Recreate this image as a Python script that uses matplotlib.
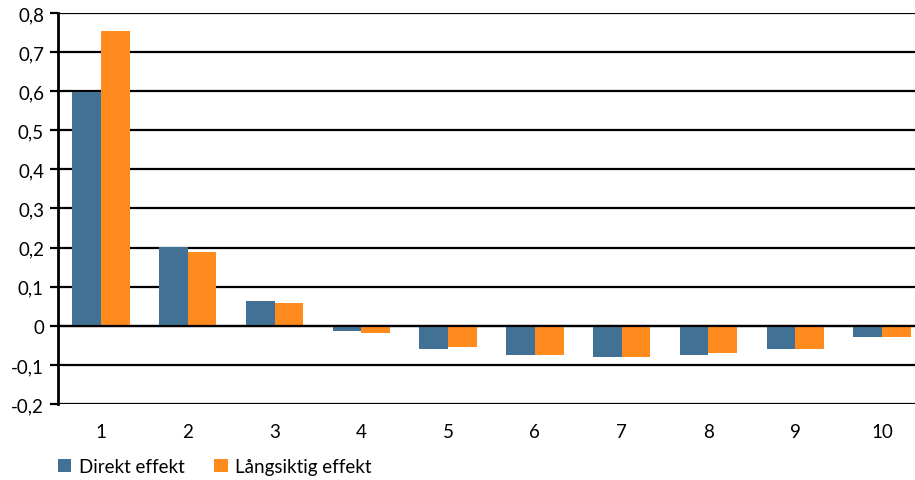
import numpy as np
import matplotlib
matplotlib.use("Agg")
from matplotlib import pyplot as plt
from matplotlib.ticker import FuncFormatter

plt.rcParams['font.family'] = ['Lato', 'DejaVu Sans']

# data
categories = ['1', '2', '3', '4', '5', '6', '7', '8', '9', '10']
direkt = [0.598, 0.202, 0.064, -0.013, -0.059, -0.075, -0.080, -0.075, -0.059, -0.029]
langsiktig = [0.754, 0.189, 0.058, -0.018, -0.054, -0.075, -0.080, -0.069, -0.059, -0.029]
yticks = [-0.2, -0.1, 0, 0.1, 0.2, 0.3, 0.4, 0.5, 0.6, 0.7, 0.8]

blue = '#417296'
orange = '#FF8B1F'

fig = plt.figure(figsize=(9.15, 4.81), dpi=100)
ax = fig.add_axes([0.0634, 0.158, 0.9366, 0.813])

x = np.arange(1, len(categories) + 1)
w = 0.33
ax.bar(x - w/2, direkt, w, color=blue, label='Direkt effekt', zorder=2)
ax.bar(x + w/2, langsiktig, w, color=orange, label='Långsiktig effekt', zorder=2)

ax.set_xlim(0.505, 10.38)
ax.set_ylim(-0.2, 0.8)
ax.set_yticks(yticks)
ax.yaxis.set_major_formatter(FuncFormatter(lambda v, p: ('%g' % round(v, 1)).replace('.', ',')))
ax.set_xticks(x)
ax.set_xticklabels(categories)

ax.grid(axis='y', color='black', linewidth=1.6, zorder=1)
ax.set_axisbelow(True)
ax.axhline(0, color='black', linewidth=1.6, zorder=3)

for s in ['top', 'right', 'bottom']:
    ax.spines[s].set_visible(False)
ax.spines['left'].set_linewidth(2.0)
ax.tick_params(axis='y', direction='out', length=6, width=1.6, labelsize=13.5, pad=4)
ax.tick_params(axis='x', length=0, labelsize=13.5, pad=14)

fig.legend(loc='lower left', bbox_to_anchor=(0.045, -0.025), ncol=2, frameon=False,
           fontsize=13.5, handlelength=0.7, handleheight=0.7, handletextpad=0.4,
           columnspacing=1.6)

fig.savefig('out.png', dpi=100)
